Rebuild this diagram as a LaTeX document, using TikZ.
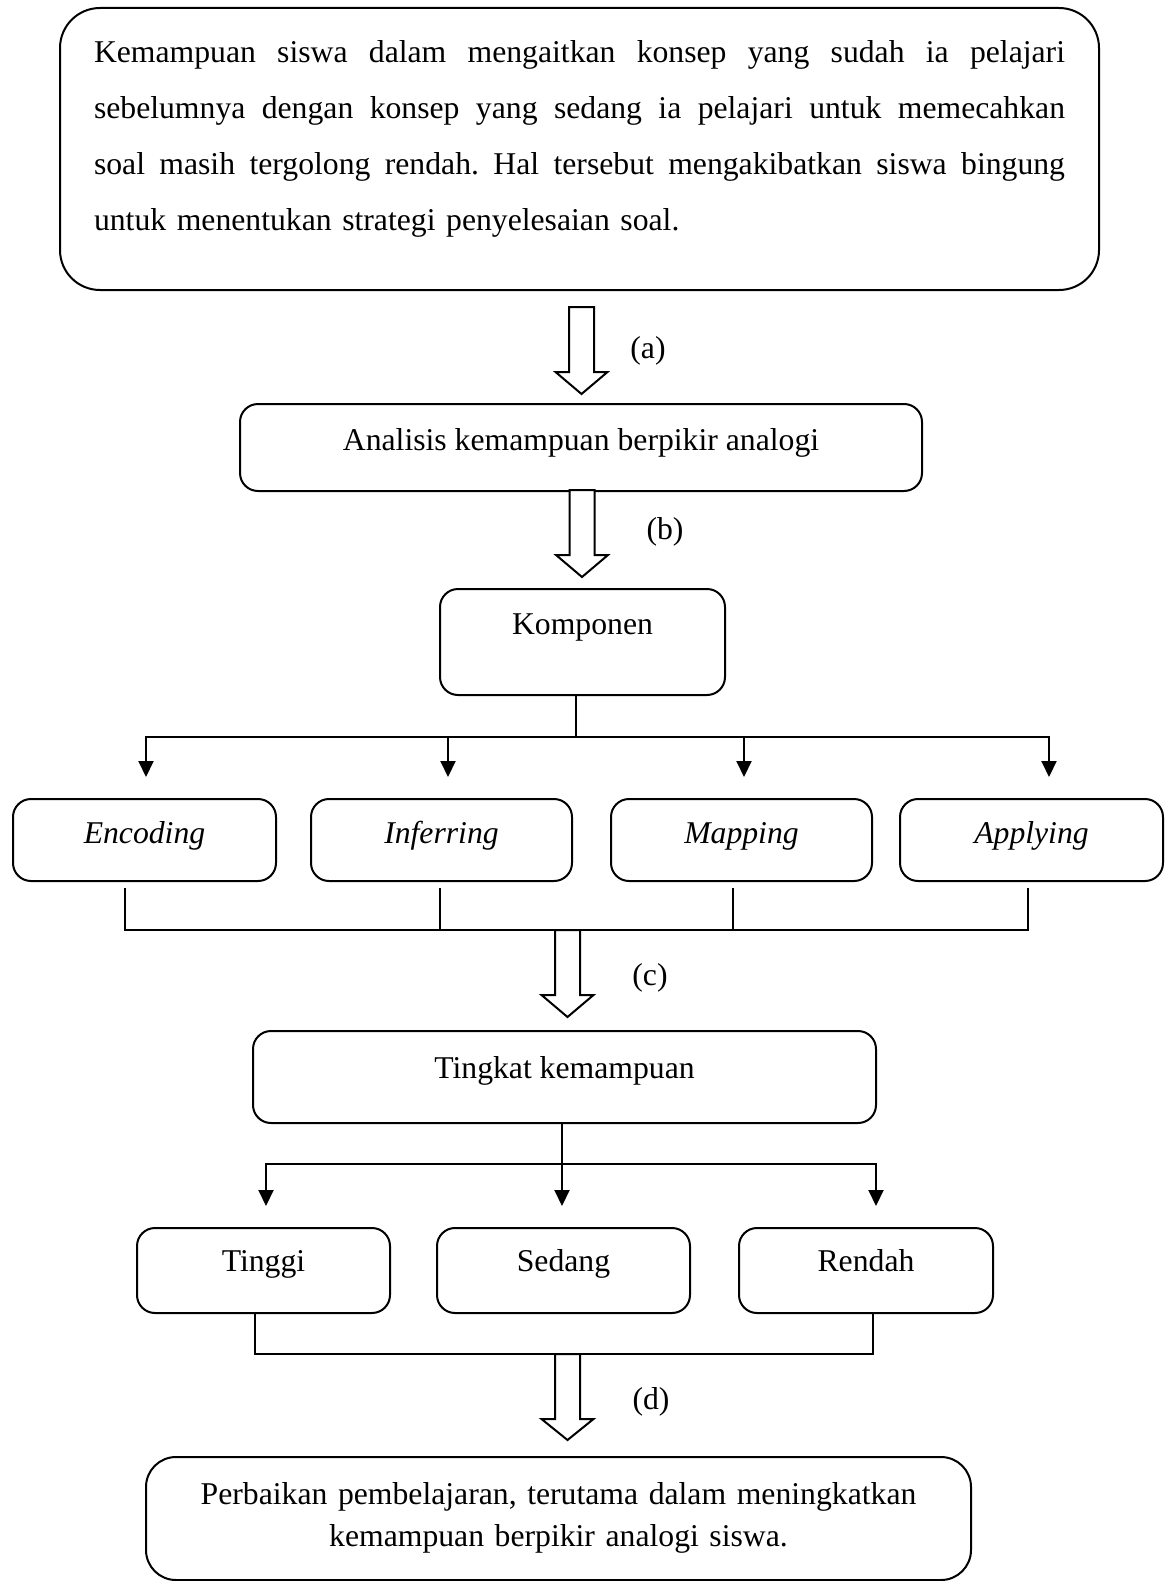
\documentclass[tikz,border=0pt]{standalone}
\usepackage{fontspec}
\setmainfont{Liberation Serif}
\usetikzlibrary{arrows.meta}
\newcommand\hollowarr[4]{% cx, top, base, tip
  \draw[hollow] (#1-12.5,#2) -- (#1+12.5,#2) -- (#1+12.5,#3) -- (#1+26,#3) -- (#1,#4) -- (#1-26,#3) -- (#1-12.5,#3) -- cycle;}
\newcommand\jline[1]{\leavevmode\hbox to 971pt{\spaceskip=0.25em plus 2em minus 0.05em\xspaceskip=\spaceskip #1}}
\begin{document}
\begin{tikzpicture}[x=1pt,y=-1pt,
  box/.style={draw, line width=2pt, rounded corners=18pt, inner sep=0pt, anchor=north west,
    font=\fontsize{31.7}{38}\selectfont, align=center},
  conn/.style={line width=2pt},
  arr/.style={line width=2pt, -{Triangle[length=16pt,width=15pt]}},
  hollow/.style={line width=2pt, fill=white, line join=miter},
  lab/.style={font=\fontsize{31.7}{38}\selectfont, inner sep=0pt}
]
\useasboundingbox (0,0) rectangle (1168,1581);

% top box
\node[box, rounded corners=40pt, text width=971pt, align=left, inner xsep=34pt,
  text height=55pt, text depth=227pt, font=\fontsize{31.7}{56}\selectfont\frenchspacing] (top) at (59,7)
  {\jline{Kemampuan siswa dalam mengaitkan konsep yang sudah ia pelajari}\\
   \jline{sebelumnya dengan konsep yang sedang ia pelajari untuk memecahkan}\\
   \jline{soal masih tergolong rendah. Hal tersebut mengakibatkan siswa bingung}\\
   untuk menentukan strategi penyelesaian soal.};

\node[box, minimum width=682pt, text height=46pt, text depth=41pt] (anal) at (239,403) {Analisis kemampuan berpikir analogi};
\node[box, minimum width=285pt, text height=45pt, text depth=61pt] (komp) at (439,588) {Komponen};

\node[box, minimum width=263pt, text height=44pt, text depth=38pt, font=\fontsize{31.7}{38}\selectfont\itshape] (enc) at (12,798) {Encoding};
\node[box, minimum width=261pt, text height=44pt, text depth=38pt, font=\fontsize{31.7}{38}\selectfont\itshape] (inf) at (310,798) {Inferring};
\node[box, minimum width=261pt, text height=44pt, text depth=38pt, font=\fontsize{31.7}{38}\selectfont\itshape] (map) at (610,798) {Mapping};
\node[box, minimum width=263pt, text height=44pt, text depth=38pt, font=\fontsize{31.7}{38}\selectfont\itshape] (app) at (899,798) {Applying};

\node[box, minimum width=623pt, text height=47pt, text depth=45pt] (ting) at (252,1030) {Tingkat kemampuan};

\node[box, minimum width=253pt, text height=43pt, text depth=42pt] (tinggi) at (136,1227) {Tinggi};
\node[box, minimum width=253pt, text height=43pt, text depth=42pt] (sedang) at (436,1227) {Sedang};
\node[box, minimum width=254pt, text height=43pt, text depth=42pt] (rendah) at (738,1227) {Rendah};

\node[box, rounded corners=30pt, text width=825pt, align=center, text height=47pt, text depth=76pt,
  font=\fontsize{31.7}{42}\selectfont] (perb) at (145,1456)
  {Perbaikan pembelajaran, terutama dalam meningkatkan\\kemampuan berpikir analogi siswa.};

% hollow arrows
\hollowarr{581.5}{307}{372}{394}
\hollowarr{582}{490}{555}{577}
\hollowarr{567.5}{930}{995}{1017}
\hollowarr{567.5}{1354}{1419}{1440}

\node[lab] (la) at (648,351) {(a)};
\node[lab] (lb) at (665,532) {(b)};
\node[lab] (lc) at (650,978) {(c)};
\node[lab] (ld) at (651,1402) {(d)};

% Komponen -> four components
\coordinate (ja) at (576,737);
\draw[conn] (komp.south -| ja) -- (ja);
\draw[arr] (ja) -| (146,777);
\draw[arr] (ja) -| (1049,777);
\draw[arr] (448,737) -- (448,777);
\draw[arr] (744,737) -- (744,777);

% components join
\draw[conn] (125,888) -- (125,930) -- (1028,930) -- (1028,888);
\draw[conn] (440,888) -- (440,930);
\draw[conn] (733,888) -- (733,930);

% Tingkat -> levels
\coordinate (jb) at (562,1164);
\draw[conn] (ting.south -| jb) -- (jb);
\draw[arr] (jb) -| (266,1206);
\draw[arr] (jb) -| (876,1206);
\draw[arr] (jb) -- (562,1206);

% levels join
\draw[conn] (255,1312) -- (255,1354) -- (873,1354) -- (873,1312);
\end{tikzpicture}
\end{document}
